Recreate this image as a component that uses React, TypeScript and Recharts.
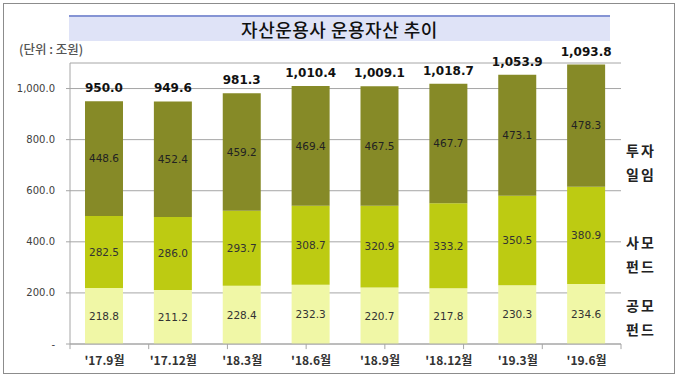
import { BarChart, Bar, XAxis, YAxis, CartesianGrid, LabelList, ReferenceLine } from "recharts";

const periods = ["'17.9월", "'17.12월", "'18.3월", "'18.6월", "'18.9월", "'18.12월", "'19.3월", "'19.6월"];
const publicFund = [218.8, 211.2, 228.4, 232.3, 220.7, 217.8, 230.3, 234.6];
const privateFund = [282.5, 286.0, 293.7, 308.7, 320.9, 333.2, 350.5, 380.9];
const discretionary = [448.6, 452.4, 459.2, 469.4, 467.5, 467.7, 473.1, 478.3];
const totals = [950.0, 949.6, 981.3, 1010.4, 1009.1, 1018.7, 1053.9, 1093.8];
const yTicks = [0, 200, 400, 600, 800, 1000];
const sepTicks = [0, 1, 2, 3, 4, 5, 6, 7, 8];

const data = periods.map((p, i) => ({
  period: p,
  pub: publicFund[i],
  priv: privateFund[i],
  disc: discretionary[i],
  total: totals[i],
}));

const fmt = (v: number) =>
  v.toLocaleString("en-US", { minimumFractionDigits: 1, maximumFractionDigits: 1 });

const numFont = "'DejaVu Sans', sans-serif";
const krFont = "'Noto Sans CJK KR', sans-serif";

const sideLabel = {
  position: "absolute" as const,
  left: 626,
  width: 34,
  fontFamily: krFont,
  fontSize: 14,
  fontWeight: 700,
  color: "#222",
  lineHeight: "24px",
  letterSpacing: 2,
  whiteSpace: "pre" as const,
};

export default function App() {
  return (
    <div style={{ position: "absolute", left: 0, top: 0, width: 680, height: 376, background: "#fff" }}>
      <div
        style={{
          position: "absolute",
          left: 3,
          top: 3,
          width: 670,
          height: 369,
          border: "1px solid #8c8c8c",
        }}
      />
      <div
        style={{
          position: "absolute",
          left: 69,
          top: 15,
          width: 541,
          height: 24,
          background: "#dfe3f7",
          borderTop: "2px solid #8594d4",
          textAlign: "center",
          fontFamily: krFont,
          fontSize: 18,
          fontWeight: 500,
          lineHeight: "24px",
          letterSpacing: 0.5,
          color: "#111",
        }}
      >
        자산운용사 운용자산 추이
      </div>
      <div
        style={{
          position: "absolute",
          left: 19,
          top: 39,
          fontFamily: krFont,
          fontSize: 12.5,
          color: "#555",
          fontWeight: 500,
        }}
      >
        (단위 : 조원)
      </div>
      <BarChart
        width={680}
        height={376}
        data={data}
        margin={{ top: 63, right: 59, bottom: 0, left: 0 }}
        style={{ position: "absolute", left: 0, top: 0 }}
      >
        <CartesianGrid vertical={false} stroke="#a6a6a6" />
        <XAxis
          dataKey="period"
          height={32}
          axisLine={{ stroke: "#a6a6a6" }}
          tickLine={false}
          tickMargin={6}
          tick={{ fontFamily: krFont, fontSize: 12, fontWeight: 700, fill: "#333" }}
        />
        <XAxis xAxisId="sep" type="number" domain={[0, 8]} hide />
        <YAxis
          width={70}
          domain={[0, 1100]}
          ticks={yTicks}
          tickSize={4}
          tickMargin={11}
          axisLine={{ stroke: "#a6a6a6" }}
          tickLine={{ stroke: "#a6a6a6" }}
          tickFormatter={(v: number) => (v === 0 ? "-" : fmt(v))}
          tick={{ fontFamily: numFont, fontSize: 10, fill: "#404040" }}
        />
        <Bar dataKey="pub" stackId="a" fill="#f0f7a6" barSize={38} isAnimationActive={false}>
          <LabelList dataKey="pub" position="center" formatter={(v: number) => fmt(v)} fill="#333" fontSize={10.5} fontFamily={numFont} />
        </Bar>
        <Bar dataKey="priv" stackId="a" fill="#bdcb12" barSize={38} isAnimationActive={false}>
          <LabelList dataKey="priv" position="center" formatter={(v: number) => fmt(v)} fill="#333" fontSize={10.5} fontFamily={numFont} />
        </Bar>
        <Bar dataKey="disc" stackId="a" fill="#868a27" barSize={38} isAnimationActive={false}>
          <LabelList dataKey="disc" position="center" formatter={(v: number) => fmt(v)} fill="#222" fontSize={10.5} fontFamily={numFont} />
          <LabelList dataKey="total" position="top" offset={9} formatter={(v: number) => fmt(v)} fill="#111" fontSize={12} fontWeight={700} fontFamily={numFont} />
        </Bar>
        {sepTicks.map((t) => (
          <ReferenceLine
            key={t}
            xAxisId="sep"
            segment={[{ x: t, y: 0 }, { x: t, y: -20 }]}
            ifOverflow="visible"
            stroke="#a6a6a6"
          />
        ))}
      </BarChart>
      <div style={{ ...sideLabel, top: 138 }}>{"투자\n일임"}</div>
      <div style={{ ...sideLabel, top: 230 }}>{"사모\n펀드"}</div>
      <div style={{ ...sideLabel, top: 293 }}>{"공모\n펀드"}</div>
    </div>
  );
}
